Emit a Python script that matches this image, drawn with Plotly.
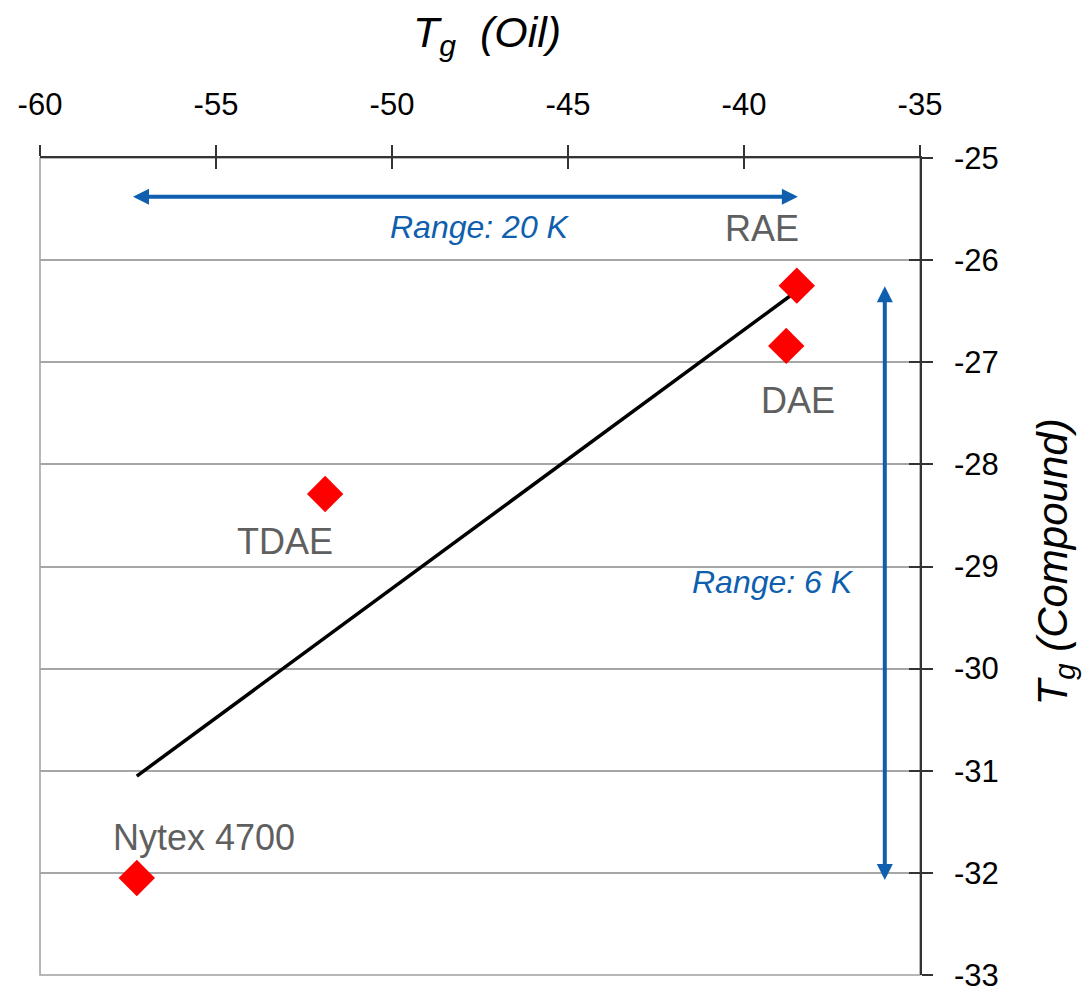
import numpy as np
import plotly.graph_objects as go

# Glass transition temperatures (°C): process oil vs. filled compound
oils = ["RAE", "DAE", "TDAE", "Nytex 4700"]
tg_oil = [-38.5, -38.8, -51.9, -57.25]
tg_compound = [-26.25, -26.84, -28.29, -32.05]

# label offsets (px) relative to each marker
label_dx = [-35, 12, -40, 67]
label_dy = [57, -55, -48, 40]

# span arrows
oil_span = [-57.4, -38.47]
oil_span_y = -25.38
compound_span = [-26.24, -32.07]
compound_span_x = -36.0

x_ticks = [-60, -55, -50, -45, -40, -35]
x_tick_text = ["-60", "-55", "-50", "-45", "-40", "-35"]
y_ticks = [-33, -32, -31, -30, -29, -28, -27, -26, -25]
y_tick_text = ["-33", "-32", "-31", "-30", "-29", "-28", "-27", "-26", "-25"]

FONT = "Liberation Sans"
BLUE = "#0f5fae"
GREY_TXT = "#5f5f5f"
AXIS = "#333333"

# least-squares trend line through the four oils
slope, intercept = np.polyfit(tg_oil, tg_compound, 1)
fit_x = np.array([min(tg_oil), max(tg_oil)])
fit_y = slope * fit_x + intercept

fig = go.Figure()

fig.add_trace(go.Scatter(
    x=fit_x, y=fit_y, mode="lines",
    line=dict(color="black", width=3.5),
    showlegend=False, hoverinfo="skip",
))
fig.add_trace(go.Scatter(
    x=tg_oil, y=tg_compound, mode="markers",
    marker=dict(symbol="diamond", size=28, color="#ff0000", line=dict(width=0)),
    text=oils, showlegend=False,
))
# carrier for the overlay axes that draw the inward half of each tick
fig.add_trace(go.Scatter(x=[], y=[], xaxis="x2", yaxis="y2",
                         showlegend=False, hoverinfo="skip"))

for name, x, y, dx, dy in zip(oils, tg_oil, tg_compound, label_dx, label_dy):
    fig.add_annotation(x=x, y=y, text=name, showarrow=False,
                       xshift=dx, yshift=dy,
                       font=dict(family=FONT, size=36, color=GREY_TXT))

# double-headed range arrows
fig.add_annotation(x=oil_span[1], y=oil_span_y, ax=oil_span[0], ay=oil_span_y,
                   xref="x", yref="y", axref="x", ayref="y", text="",
                   showarrow=True, arrowside="end+start", arrowhead=2,
                   startarrowhead=2, arrowsize=0.8, startarrowsize=0.8,
                   arrowwidth=4, arrowcolor=BLUE)
fig.add_annotation(x=compound_span_x, y=compound_span[1],
                   ax=compound_span_x, ay=compound_span[0],
                   xref="x", yref="y", axref="x", ayref="y", text="",
                   showarrow=True, arrowside="end+start", arrowhead=2,
                   startarrowhead=2, arrowsize=0.8, startarrowsize=0.8,
                   arrowwidth=4, arrowcolor=BLUE)
fig.add_annotation(x=-47.5, y=-25.68, text="<i>Range: 20 K</i>", showarrow=False,
                   font=dict(family=FONT, size=32, color=BLUE))
fig.add_annotation(x=-39.18, y=-29.15, text="<i>Range: 6 K</i>", showarrow=False,
                   font=dict(family=FONT, size=32, color=BLUE))

# axis titles
fig.add_annotation(xref="paper", yref="paper", x=0.5, y=1, xshift=7, yshift=123,
                   xanchor="center", yanchor="middle",
                   text="<i>T<sub>g</sub>&nbsp;&nbsp;(Oil)</i>", showarrow=False,
                   font=dict(family=FONT, size=43, color="black"))
fig.add_annotation(xref="paper", yref="paper", x=1, y=0.5, xshift=135, yshift=4,
                   xanchor="center", yanchor="middle",
                   text="<i>T<sub>g</sub> (Compound)</i>", textangle=-90,
                   showarrow=False, font=dict(family=FONT, size=42, color="black"))

# grey frame on the left and bottom
fig.add_shape(type="rect", xref="paper", yref="paper", x0=0, y0=0, x1=1, y1=1,
              line=dict(color="#a0a0a0", width=1.5), layer="below")
# axis lines run a little past the corner where they meet
fig.add_shape(type="line", xref="paper", yref="paper", x0=1, x1=1 + 12 / 880,
              y0=1, y1=1, line=dict(color=AXIS, width=1.5))
fig.add_shape(type="line", xref="paper", yref="paper", x0=1, x1=1,
              y0=1, y1=1 + 11 / 817, line=dict(color=AXIS, width=1.5))

tick_font = dict(family=FONT, size=31, color="black")

fig.update_layout(
    width=1084, height=988,
    margin=dict(l=40, r=164, t=158, b=13, autoexpand=False),
    paper_bgcolor="white", plot_bgcolor="white",
    font=dict(family=FONT),
    xaxis=dict(range=[-60, -35], side="top", tickvals=x_ticks, ticktext=x_tick_text,
               ticks="outside", ticklen=11, tickwidth=1.5, tickcolor=AXIS,
               showline=True, linecolor=AXIS, linewidth=1.5,
               showgrid=False, zeroline=False, tickfont=tick_font,
               ticklabelstandoff=18, ticklabeloverflow="allow", automargin=False),
    xaxis2=dict(range=[-60, -35], side="top", overlaying="x", anchor="y",
                tickvals=x_ticks, ticks="inside", ticklen=11, tickwidth=1.5,
                tickcolor=AXIS, showticklabels=False, showline=False,
                showgrid=False, zeroline=False, automargin=False),
    yaxis=dict(range=[-33, -25], side="right", tickvals=y_ticks, ticktext=y_tick_text,
               ticks="outside", ticklen=11, tickwidth=1.5, tickcolor=AXIS,
               showline=True, linecolor=AXIS, linewidth=1.5,
               showgrid=True, gridcolor="#a6a6a6", gridwidth=1.5,
               zeroline=False, tickfont=tick_font, ticklabelstandoff=15,
               ticklabeloverflow="allow", automargin=False),
    yaxis2=dict(range=[-33, -25], side="right", overlaying="y", anchor="x",
                tickvals=y_ticks, ticks="inside", ticklen=11, tickwidth=1.5,
                tickcolor=AXIS, showticklabels=False, showline=False,
                showgrid=False, zeroline=False, automargin=False),
)

fig.write_html("out.html")
